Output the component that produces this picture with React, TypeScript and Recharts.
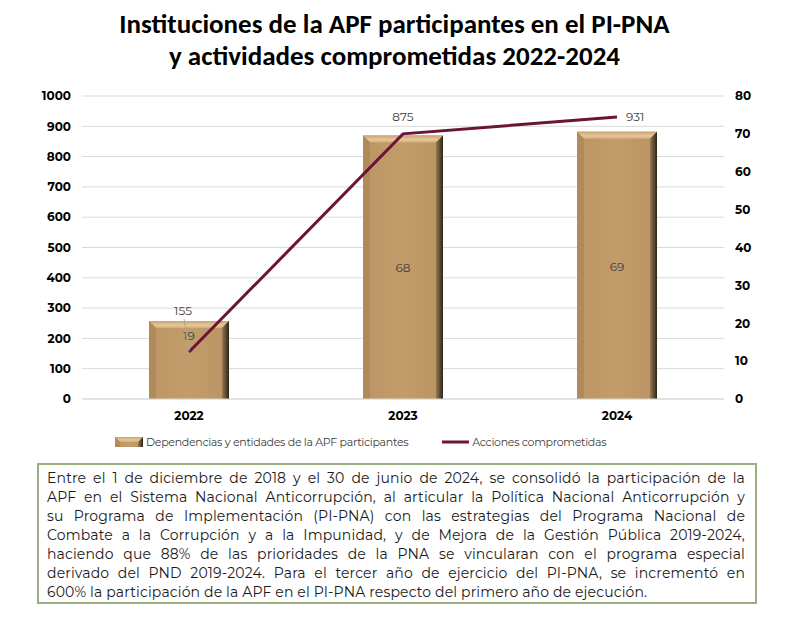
import { Bar, CartesianGrid, ComposedChart, LabelList, Line, XAxis, YAxis } from "recharts";

const years = ["2022", "2023", "2024"];
const dependencias = [19, 68, 69];
const acciones = [155, 875, 931];
const leftTicks = [0, 100, 200, 300, 400, 500, 600, 700, 800, 900, 1000];
const rightTicks = [0, 10, 20, 30, 40, 50, 60, 70, 80];

const textLines = [
  "Entre el 1 de diciembre de 2018 y el 30 de junio de 2024, se consolidó la participación de la",
  "APF en el Sistema Nacional Anticorrupción, al articular la Política Nacional Anticorrupción y",
  "su Programa de Implementación (PI-PNA) con las estrategias del Programa Nacional de",
  "Combate a la Corrupción y a la Impunidad, y de Mejora de la Gestión Pública 2019-2024,",
  "haciendo que 88% de las prioridades de la PNA se vincularan con el programa especial",
  "derivado del PND 2019-2024. Para el tercer año de ejercicio del PI-PNA, se incrementó en",
  "600% la participación de la APF en el PI-PNA respecto del primero año de ejecución.",
];

const data = years.map((year, i) => ({ year, dependencias: dependencias[i], acciones: acciones[i] }));

const FONT = "Montserrat, 'Open Sans', 'Noto Sans', sans-serif";
const LINE = "#6b1535";

// excel-style bevel; the raised top edge sits a little above the value
function BevelBar(props: any) {
  const { x, width: w, lift = 6 } = props;
  const y = props.y - lift;
  const h = props.height + lift;
  if (!props.height || props.height <= 0) return null;
  const b = Math.min(7, h / 2);
  return (
    <g>
      <rect x={x} y={y} width={w} height={h} fill="url(#barBody)" />
      <polygon points={`${x},${y} ${x + w},${y} ${x + w - b},${y + b} ${x + b},${y + b}`} fill="url(#barTop)" />
      <polygon points={`${x},${y} ${x + b},${y + b} ${x + b},${y + h} ${x},${y + h}`} fill="#b08a5a" />
      <polygon points={`${x + w},${y} ${x + w},${y + h} ${x + w - b},${y + h} ${x + w - b},${y + b}`} fill="url(#barRight)" />
    </g>
  );
}

function BarValueLabel(props: any) {
  const { x, y, width, height, value, index } = props;
  const cy = y + height / 2 - (index === 0 ? 27 : 2);
  return (
    <text x={x + width / 2} y={cy} dy="0.35em" textAnchor="middle" fontSize={12} fill="#404040" fontFamily={FONT}>
      {value}
    </text>
  );
}

function LineValueLabel(props: any) {
  const { x, y, value, index } = props;
  if (index === 0) {
    return (
      <g>
        <line x1={x - 5} y1={y - 33} x2={x} y2={y - 1} stroke="#a6a6a6" strokeWidth={1} />
        <text x={x - 6} y={y - 41} dy="0.35em" textAnchor="middle" fontSize={12} fill="#404040" fontFamily={FONT}>
          {value}
        </text>
      </g>
    );
  }
  if (index === data.length - 1) {
    return (
      <text x={x + 9} y={y} dy="0.35em" textAnchor="start" fontSize={12} fill="#404040" fontFamily={FONT}>
        {value}
      </text>
    );
  }
  return (
    <text x={x} y={y - 17} dy="0.35em" textAnchor="middle" fontSize={12} fill="#404040" fontFamily={FONT}>
      {value}
    </text>
  );
}

export default function App() {
  return (
    <div style={{ position: "absolute", left: 0, top: 0, width: 789, height: 623, background: "#fff", fontFamily: FONT }}>
      <div
        style={{
          position: "absolute",
          left: 0,
          top: 8,
          width: 789,
          textAlign: "center",
          fontFamily: "Carlito, Lato, sans-serif",
          fontWeight: 700,
          fontSize: 27,
          lineHeight: "32px",
          color: "#000",
        }}
      >
        Instituciones de la APF participantes en el PI-PNA
        <br />
        y actividades comprometidas 2022-2024
      </div>

      <div style={{ position: "absolute", left: 0, top: 0 }}>
        <ComposedChart width={789} height={430} data={data} margin={{ top: 96, right: 0, left: 0, bottom: 0 }}>
          <defs>
            <linearGradient id="barBody" x1="0" y1="0" x2="1" y2="0">
              <stop offset="0%" stopColor="#bb9564" />
              <stop offset="50%" stopColor="#c39c6b" />
              <stop offset="100%" stopColor="#b99362" />
            </linearGradient>
            <linearGradient id="barTop" x1="0" y1="0" x2="0" y2="1">
              <stop offset="0%" stopColor="#c9a372" />
              <stop offset="60%" stopColor="#e6c898" />
              <stop offset="100%" stopColor="#d2ad7b" />
            </linearGradient>
            <linearGradient id="barRight" x1="0" y1="0" x2="1" y2="0">
              <stop offset="0%" stopColor="#9a7a50" />
              <stop offset="100%" stopColor="#2e2518" />
            </linearGradient>
          </defs>
          <CartesianGrid yAxisId="left" vertical={false} stroke="#d9d9d9" />
          <XAxis
            dataKey="year"
            height={31}
            tickLine={false}
            axisLine={{ stroke: "#d9d9d9" }}
            tickMargin={6}
            tick={{ fontSize: 12, fontWeight: 700, fill: "#000", fontFamily: FONT }}
          />
          <YAxis
            yAxisId="left"
            orientation="left"
            width={82}
            domain={[0, 1000]}
            ticks={leftTicks}
            interval={0}
            tickLine={false}
            axisLine={false}
            tickMargin={5}
            tick={{ fontSize: 12, fontWeight: 700, fill: "#000", fontFamily: FONT }}
          />
          <YAxis
            yAxisId="right"
            orientation="right"
            width={65}
            domain={[0, 80]}
            ticks={rightTicks}
            interval={0}
            tickLine={false}
            axisLine={false}
            tickMargin={5}
            tick={{ fontSize: 12, fontWeight: 700, fill: "#000", fontFamily: FONT }}
          />
          <Bar yAxisId="right" dataKey="dependencias" barSize={80} shape={<BevelBar />} isAnimationActive={false}>
            <LabelList dataKey="dependencias" content={<BarValueLabel />} />
          </Bar>
          <Line
            yAxisId="left"
            dataKey="acciones"
            stroke={LINE}
            strokeWidth={3}
            dot={false}
            activeDot={false}
            isAnimationActive={false}
          >
            <LabelList dataKey="acciones" content={<LineValueLabel />} />
          </Line>
        </ComposedChart>
      </div>

      <div
        style={{
          position: "absolute",
          top: 435,
          left: 115,
          display: "flex",
          alignItems: "center",
          fontSize: 11,
          letterSpacing: -0.3,
          color: "#404040",
          whiteSpace: "nowrap",
        }}
      >
        <svg width={29} height={10} style={{ marginRight: 2 }}>
          <BevelBar x={0} y={0} width={28} height={10} lift={0} />
        </svg>
        <span>Dependencias y entidades de la APF participantes</span>
        <svg width={28} height={10} style={{ marginLeft: 34, marginRight: 2 }}>
          <line x1={0} y1={5} x2={27} y2={5} stroke={LINE} strokeWidth={3} />
        </svg>
        <span>Acciones comprometidas</span>
      </div>

      <div
        style={{
          position: "absolute",
          left: 37,
          top: 463,
          width: 720,
          height: 141,
          boxSizing: "border-box",
          border: "2px solid #9aae82",
          padding: "4px 10px 0 8px",
          fontSize: 14,
          letterSpacing: 0.15,
          lineHeight: "19px",
          color: "#1a1a1a",
        }}
      >
        {textLines.map((line, i) => (
          <div
            key={i}
            style={{
              textAlign: "justify",
              textAlignLast: i === textLines.length - 1 ? "left" : "justify",
              whiteSpace: "nowrap",
            }}
          >
            {line}
          </div>
        ))}
      </div>
    </div>
  );
}
